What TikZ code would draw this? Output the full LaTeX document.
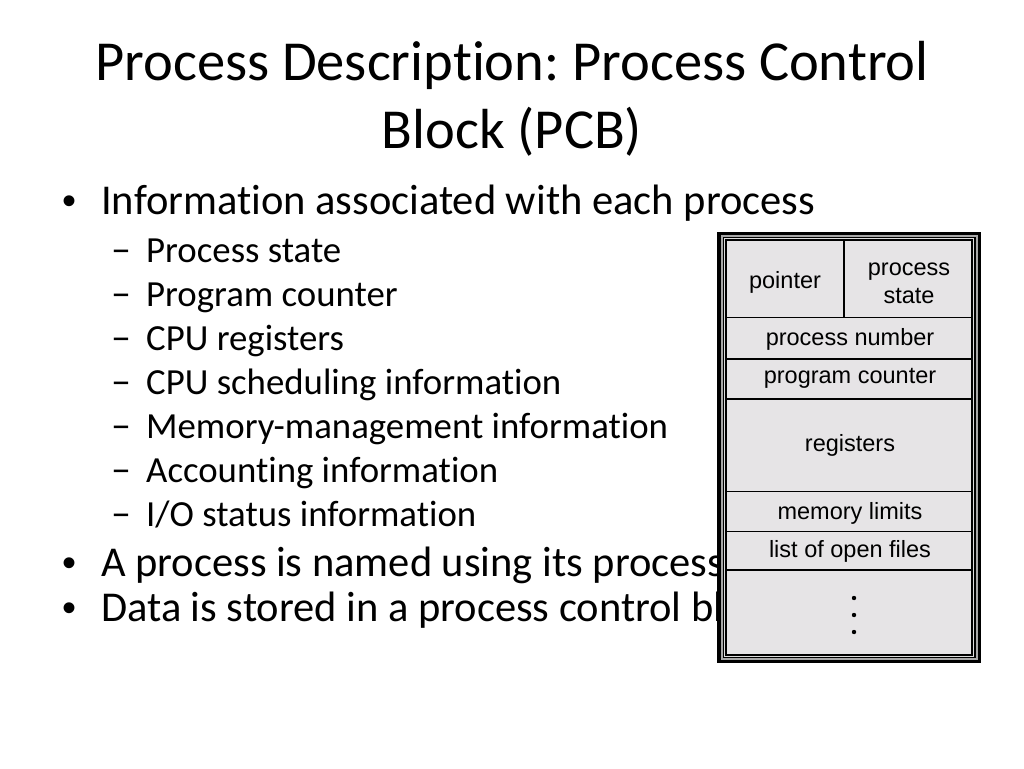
\documentclass[tikz,border=0pt]{standalone}
\usepackage{fontspec}
\setmainfont{Carlito}[Ligatures={NoCommon}]
\newfontfamily\boxfont{Liberation Sans}
\frenchspacing
\definecolor{cellgray}{HTML}{E6E4E6}
\definecolor{framegray}{HTML}{A8A8A8}
\tikzset{
  title/.style={anchor=base, inner sep=0pt, font=\fontsize{56.5}{60}\selectfont},
  lvlone/.style={anchor=base west, inner sep=0pt, font=\fontsize{42.5}{46}\selectfont},
  lvltwo/.style={anchor=base west, inner sep=0pt, font=\fontsize{36.8}{40}\selectfont},
  bulletmark/.style={anchor=base, inner sep=0pt, font=\boxfont\fontsize{40}{44}\selectfont},
  cell/.style={draw=black, line width=1.3pt, fill=cellgray},
  celltext/.style={inner sep=0pt, align=center, font=\boxfont\fontsize{23.5}{28}\selectfont},
}
\begin{document}
\begin{tikzpicture}[x=1pt,y=-1pt]
\useasboundingbox[fill=white] (0,0) rectangle (1024,768);
% title
\node[title] (t1) at (512,80) {Process Description: Process Control};
\node[title] (t2) at (512,148) {Block (PCB)};
% bullets
\node[bulletmark] (b1m) at (70,214) {•};
\node[lvlone] (b1) at (101,214) {Information associated with each process};
\foreach \txt [count=\i] in {Process state,Program counter,CPU registers,CPU scheduling information,Memory-management information,Accounting information,I/O status information}{
  \node[lvltwo] (d\i) at (111,{262+44*(\i-1)}) {\fontsize{40}{44}\selectfont –};
  \node[lvltwo] (s\i) at (146,{262+44*(\i-1)}) {\txt};
}
\node[bulletmark] (b2m) at (70,576) {•};
\node[lvlone] (b2) at (101,576) {A process is named using its process};
\node[bulletmark] (b3m) at (70,621) {•};
\node[lvlone] (b3) at (101,621) {Data is stored in a process control bl};
% PCB frame
\draw[fill=framegray, line width=3.5pt] (719,233.5) rectangle (979.5,661.5);
\draw[line width=1.2pt, fill=white!60!framegray] (723.5,237.5) rectangle (975,657.5);
% cells
\draw[cell] (726,240) rectangle (844,317.5);
\draw[cell] (844,240) rectangle (972,317.5);
\draw[cell] (726,317.5) rectangle (972,359);
\draw[cell] (726,359) rectangle (972,399);
\draw[cell] (726,399) rectangle (972,491.5);
\draw[cell] (726,491.5) rectangle (972,531.5);
\draw[cell] (726,531.5) rectangle (972,570);
\draw[cell] (726,570) rectangle (972,655);
\node[celltext] (pointer) at (785,282) {pointer};
\node[celltext] (pstate) at (909,283) {process\\state};
\node[celltext] (pnum) at (850,339) {process number};
\node[celltext] (pc) at (850,378) {program counter};
\node[celltext] (regs) at (850,445) {registers};
\node[celltext] (mem) at (850,513) {memory limits};
\node[celltext] (files) at (850,551) {list of open files};
\foreach \yy in {598,615,632}{
  \fill (854,\yy) circle (2.2);
}
\end{tikzpicture}
\end{document}
